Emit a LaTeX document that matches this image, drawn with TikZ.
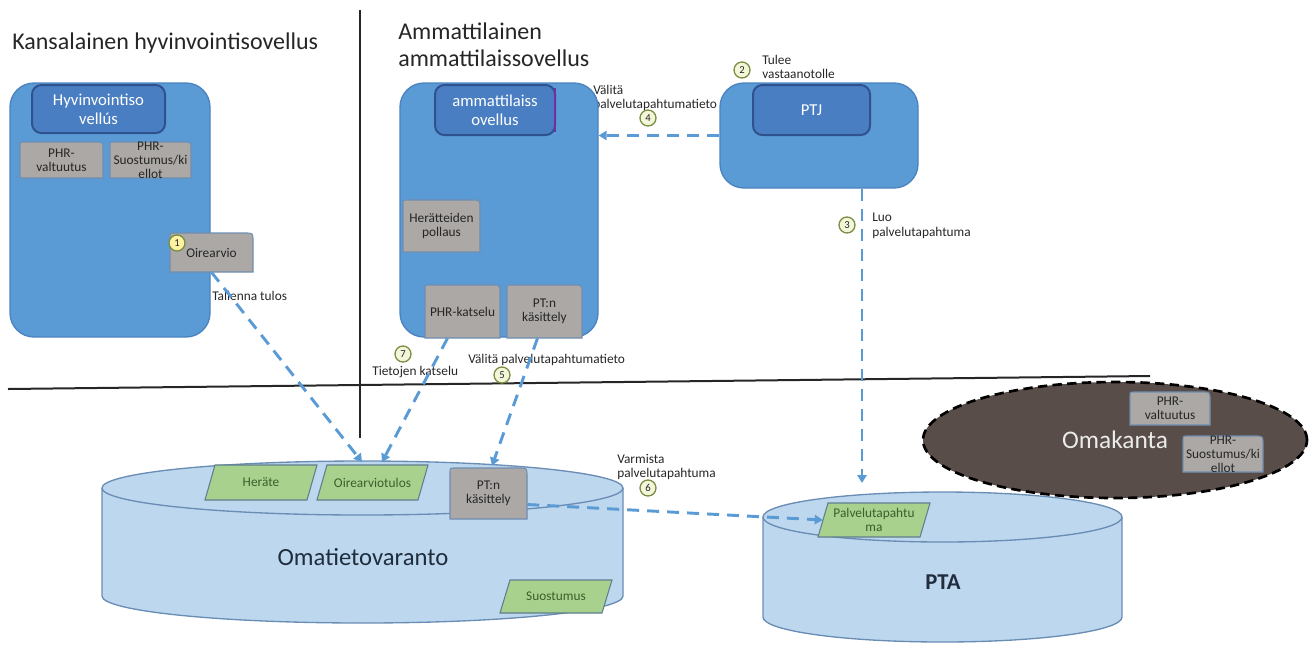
\documentclass[tikz,border=0pt]{standalone}
\usepackage{fontspec}
\setmainfont{Carlito}
\usetikzlibrary{shapes.geometric,arrows.meta,calc}
\definecolor{appblue}{HTML}{5B9BD5}
\definecolor{appedge}{HTML}{4A83C0}
\definecolor{inblue}{HTML}{4A7EC2}
\definecolor{inedge}{HTML}{2F528F}
\definecolor{grayf}{HTML}{ABA8A6}
\definecolor{grayd}{HTML}{6F8DB0}
\definecolor{greenf}{HTML}{A9D18E}
\definecolor{greend}{HTML}{5E7F8F}
\definecolor{greentxt}{HTML}{3B5E2B}
\definecolor{cylf}{HTML}{BDD7EE}
\definecolor{cyld}{HTML}{6A8DB5}
\definecolor{omakf}{HTML}{594D49}
\definecolor{flowc}{HTML}{5B9BD5}
\definecolor{numd}{HTML}{7A8F45}
\definecolor{numf}{HTML}{F4F6DA}
\definecolor{numy}{HTML}{FFF2A0}
\definecolor{txt}{HTML}{262626}
\definecolor{bigtxt}{HTML}{1F2D3D}
\newcommand\gbox[6]{%
 \path[gshape] (#2-#4/2,#3+#5/2) -- (#2-#4/2,#3-#5/2+4) .. controls (#2-#4/2,#3-#5/2) .. (#2-#4/2+4,#3-#5/2)
   -- (#2+#4/2-8,#3-#5/2) .. controls (#2+#4/2,#3-#5/2) .. (#2+#4/2,#3-#5/2+8) -- (#2+#4/2,#3+#5/2) -- cycle;
 \node[gtext, sz={#4}{#5}] (#1) at (#2,#3) {#6};}
\newcommand\pbox[6]{%
 \path[pshape] (#2-#4/2,#3+#5/2) -- (#2-#4/2+10,#3-#5/2) -- (#2+#4/2,#3-#5/2) -- (#2+#4/2-10,#3+#5/2) -- cycle;
 \node[ptext, sz={#4-10}{#5}] (#1) at (#2,#3) {#6};}
\begin{document}
\begin{tikzpicture}[x=0.75pt,y=-0.75pt,
  sz/.style 2 args={minimum width=(#1)*0.75pt, minimum height=(#2)*0.75pt, inner sep=0pt},
  appbox/.style={draw=appedge, fill=appblue, line width=1pt, rounded corners=18pt},
  innerbox/.style={draw=inedge, fill=inblue, line width=1.5pt, rounded corners=7pt, text=white,
     font=\fontsize{12.5}{14}\selectfont, align=center},
  gshape/.style={fill=grayf, draw=grayd, line width=0.8pt},
  gtext/.style={font=\fontsize{10}{10.5}\selectfont, text=txt, align=center},
  pshape/.style={fill=greenf, draw=greend, line width=0.8pt},
  ptext/.style={font=\fontsize{10}{11}\selectfont, text=greentxt, align=center},
  flow/.style={draw=flowc, line width=2.2pt, dash pattern=on 9pt off 6pt, -{Triangle[length=6pt,width=7pt]}},
  num/.style={circle, draw=numd, fill=numf, line width=1pt, inner sep=0pt, minimum size=12pt,
     font=\fontsize{8}{8}\selectfont, text=txt},
  lbl/.style={font=\fontsize{10}{11}\selectfont, text=txt, align=left, inner sep=0pt, anchor=west},
  title/.style={font=\fontsize{18}{20}\selectfont, text=txt, align=left, inner sep=0pt, anchor=west},
  cyl/.style={fill=cylf, draw=cyld, line width=1pt},
  sep/.style={draw=black!85, line width=1.5pt}]
\useasboundingbox (0,0) rectangle (1313,651);
% separators
\draw[sep] (360,10) -- (360,438);
\draw[sep] (8,389) -- (1150,376);
% titles
\node[title] (t1) at (12,43) {Kansalainen hyvinvointisovellus};
\node[title] (t2) at (398,45) {Ammattilainen\\ammattilaissovellus};
% label 4 (partly hidden behind PTJ)
\node[lbl] (l4) at (593,98) {Välitä\\palvelutapahtumatieto};
% left app
\node[appbox, sz={200}{254}] (kapp) at (110,210) {};
\node[innerbox, sz={133}{48}] (hyv) at (98.5,109) {Hyvinvointiso\\vellús};
\gbox{phrv1}{61.5}{160}{83}{36}{PHR-\\valtuutus}
\gbox{phrs1}{150.5}{160}{81}{36}{PHR-\\Suostumus/ki\\ellot}
\gbox{oire}{211.5}{252.5}{83}{39}{Oirearvio}
% middle app
\node[appbox, sz={198}{254}] (mapp) at (499,210) {};
\node[innerbox, sz={120}{50}] (amm) at (495,110) {ammattilaiss\\ovellus};
\draw[draw={rgb,255:red,112;green,48;blue,160}, line width=1pt] ($(amm.north east)+(-1,4)$) -- ($(amm.south east)+(-1,-4)$);
\gbox{herp}{441.5}{226}{77}{52}{Herätteiden\\pollaus}
\gbox{phrk}{462.5}{311.5}{75}{53}{PHR-katselu}
\gbox{ptk}{544.5}{311.5}{75}{53}{PT:n\\käsittely}
% PTJ
\node[appbox, sz={198}{105}] (ptjapp) at (819,135.5) {};
\node[innerbox, sz={117}{50}] (ptj) at (811.5,110) {PTJ};
% Omatietovaranto
\draw[cyl] (102,488) -- (102,596) arc[start angle=180,end angle=0,x radius=260.5,y radius=27] -- (623,488);
\draw[cyl] (362.5,488) ellipse[x radius=260.5,y radius=27];
\node[font=\fontsize{18.5}{20}\selectfont, text=bigtxt] (omat) at (363,557) {Omatietovaranto};
\pbox{herate}{261}{482.5}{112}{35}{Heräte}
\pbox{oiret}{372.5}{482.5}{111}{35}{Oirearviotulos}
\gbox{ptk2}{488.5}{493.5}{77}{51}{PT:n\\käsittely}
\pbox{suos}{556}{596.5}{112}{33}{Suostumus}
% PTA
\draw[cyl] (763,517) -- (763,617) arc[start angle=180,end angle=0,x radius=179.5,y radius=25] -- (1122,517);
\draw[cyl] (942.5,517) ellipse[x radius=179.5,y radius=25];
\node[font=\bfseries\fontsize{17}{19}\selectfont, text=bigtxt] (pta) at (943,582) {PTA};
\pbox{palv}{874}{520}{112}{34}{Palvelutapahtu\\ma}
% Omakanta
\node[ellipse, sz={384}{116}, fill=omakf, draw=black, line width=2pt, dash pattern=on 7pt off 4pt,
      text=white!92!black, font=\fontsize{19}{21}\selectfont] (omak) at (1115,440) {Omakanta};
\gbox{phrv2}{1170}{408.5}{80}{33}{PHR-\\valtuutus}
\gbox{phrs2}{1223}{454}{80}{36}{PHR-\\Suostumus/ki\\ellot}
% labels
\node[lbl] (l1) at (212,296) {Tallenna tulos};
\node[lbl] (l2) at (762,67) {Tulee\\vastaanotolle};
\node[lbl] (l3) at (872,226) {Luo\\palvelutapahtuma};
\node[lbl] (l5) at (468,360) {Välitä palvelutapahtumatieto};
\node[lbl] (l6) at (617,467) {Varmista\\palvelutapahtuma};
\node[lbl] (l7) at (372,372) {Tietojen katselu};
% connectors
\coordinate (c1) at (362,462);
\coordinate (c7) at (382,462);
\coordinate (c3) at (862,483);
\draw[flow] (oire.south) -- (c1);
\draw[flow] ($(phrk.south)+(-15,0)$) -- (c7);
\draw[flow] ($(ptk.south)+(-7,0)$) -- ($(ptk2.north)+(3.5,-2)$);
\draw[flow] (ptjapp.west) -- (ptjapp.west -| mapp.east);
\draw[flow] (ptjapp.south -| c3) -- (c3);
\draw[flow] ($(ptk2.east)+(0,11)$) -- (palv.west);
% step numbers
\node[num, fill=numy] (n1) at (177,243) {1};
\node[num] (n2) at (742,70) {2};
\node[num] (n3) at (847,225) {3};
\node[num] (n4) at (648,118) {4};
\node[num] (n5) at (502,375) {5};
\node[num] (n6) at (648,488) {6};
\node[num] (n7) at (403,354) {7};
\end{tikzpicture}
\end{document}
